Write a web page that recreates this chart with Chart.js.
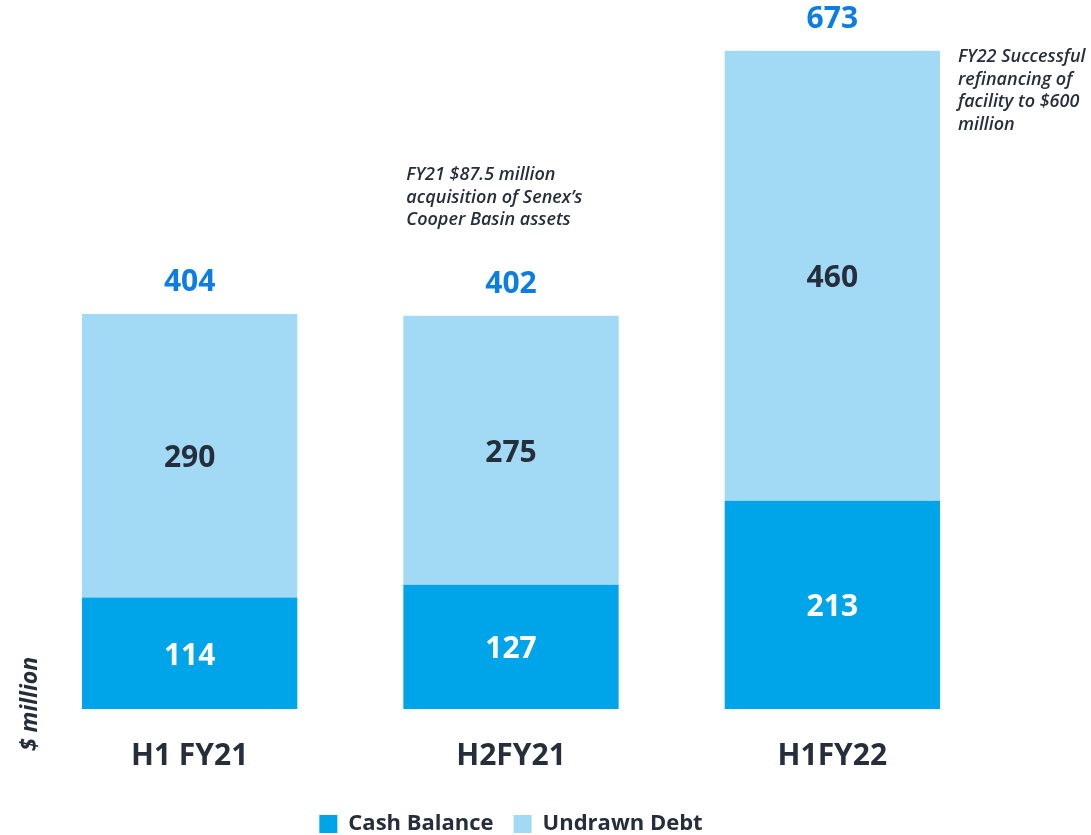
<!DOCTYPE html>
<html>
<head>
<meta charset="utf-8">
<script src="https://cdn.jsdelivr.net/npm/chart.js@4.4.1/dist/chart.umd.min.js"></script>
<style>
  html, body { margin: 0; padding: 0; background: #fff; }
  #wrap { width: 1091px; height: 835px; position: relative; }
</style>
</head>
<body>
<div id="wrap"><canvas id="chart"></canvas></div>
<script>
// Liquidity chart: cash + undrawn debt

const periods      = ['H1 FY21', 'H2FY21', 'H1FY22'];
const cashBalance  = [114, 127, 213];
const undrawnDebt  = [290, 275, 460];
const totals       = [404, 402, 673];
const notes = [
  null,
  ['FY21 $87.5 million', 'acquisition of Senex\u2019s', 'Cooper Basin assets'],
  ['FY22 Successful', 'refinancing of', 'facility to $600', 'million'],
];

const DARK = '#262e3b';
const FONT = '"Open Sans", "Noto Sans", sans-serif';

const labelsPlugin = {
  id: 'labels',
  afterLayout(chart) {
    // nudge the legend down to the bottom edge
    if (chart.legend) { chart.legend.top += 10; chart.legend.bottom += 10; }
  },
  afterDatasetsDraw(chart) {
    const ctx = chart.ctx;
    const cashMeta = chart.getDatasetMeta(0);
    const debtMeta = chart.getDatasetMeta(1);
    ctx.save();
    ctx.textAlign = 'center';
    ctx.textBaseline = 'middle';
    ctx.font = 'bold 30px ' + FONT;

    cashMeta.data.forEach((bar, i) => {
      ctx.fillStyle = '#ffffff';
      ctx.fillText(cashBalance[i], bar.x, (bar.y + bar.base) / 2 + 3);
    });
    debtMeta.data.forEach((bar, i) => {
      ctx.fillStyle = DARK;
      ctx.fillText(undrawnDebt[i], bar.x, (bar.y + bar.base) / 2 + 3);
      ctx.fillStyle = '#0b7de3';
      ctx.fillText(totals[i], bar.x, bar.y - 31);
    });

    // side notes
    ctx.font = 'italic 600 18px ' + FONT;
    ctx.fillStyle = DARK;
    ctx.textAlign = 'left';
    const b2 = debtMeta.data[1];
    notes[1].forEach((line, k) => ctx.fillText(line, b2.x - b2.width / 2 + 3, 175 + k * 22.5));
    const b3 = debtMeta.data[2];
    notes[2].forEach((line, k) => ctx.fillText(line, b3.x + b3.width / 2 + 18, 57 + k * 22.5));

    // axis title
    ctx.translate(30, 704);
    ctx.rotate(-Math.PI / 2);
    ctx.textAlign = 'center';
    ctx.font = 'italic bold 23px ' + FONT;
    ctx.fillText('$ million', 0, 0);
    ctx.restore();
  }
};

new Chart(document.getElementById('chart'), {
  type: 'bar',
  data: {
    labels: periods,
    datasets: [
      { label: 'Cash Balance', data: cashBalance, backgroundColor: '#00a5e9' },
      { label: 'Undrawn Debt', data: undrawnDebt, backgroundColor: '#a2daf5' },
    ]
  },
  options: {
    responsive: true,
    maintainAspectRatio: false,
    animation: false,
    datasets: { bar: { barPercentage: 0.67, categoryPercentage: 1 } },
    layout: { padding: { left: 29, right: 98, top: 0, bottom: 0 } },
    plugins: {
      tooltip: { enabled: false },
      legend: {
        position: 'bottom',
        fullSize: false,
        labels: {
          color: DARK,
          font: { family: FONT, size: 22, weight: 'bold' },
          boxWidth: 18,
          boxHeight: 18,
          padding: 20,
        }
      }
    },
    scales: {
      x: {
        stacked: true,
        grid: { display: false, drawTicks: false },
        border: { display: false },
        ticks: {
          color: DARK,
          padding: 29,
          font: { family: FONT, size: 30, weight: 'bold' },
        },
        afterFit(axis) { axis.height -= 20; }
      },
      y: {
        stacked: true,
        display: false,
        min: 0,
        max: 725,
      }
    }
  },
  plugins: [labelsPlugin]
});
</script>
</body>
</html>
